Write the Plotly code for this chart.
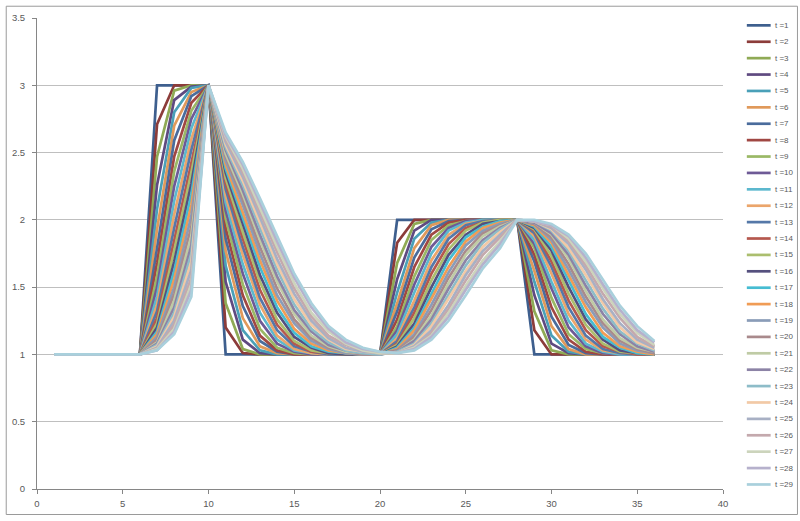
import plotly.graph_objects as go

# x positions (grid points)
X = [1, 2, 3, 4, 5, 6, 7, 8, 9, 10, 11, 12, 13, 14, 15, 16, 17, 18,
     19, 20, 21, 22, 23, 24, 25, 26, 27, 28, 29, 30, 31, 32, 33, 34, 35, 36]

t1 = [1, 1, 1, 1, 1, 1, 3, 3, 3, 3, 1, 1, 1, 1, 1, 1, 1, 1, 1, 1, 2, 2, 2, 2, 2, 2, 2, 2, 1, 1, 1, 1, 1, 1, 1, 1]
t2 = [1, 1, 1, 1, 1, 1, 2.71, 3, 3, 3, 1.20, 1.01, 1, 1, 1, 1, 1, 1, 1, 1, 1.83, 2, 2, 2, 2, 2, 2, 2, 1.18, 1, 1, 1, 1, 1, 1, 1]
t3 = [1, 1, 1, 1, 1, 1, 2.47, 2.96, 3.00, 3, 1.38, 1.04, 1.00, 1, 1, 1, 1, 1, 1, 1, 1.68, 1.97, 2, 2, 2, 2, 2, 2, 1.32, 1.03, 1, 1, 1, 1, 1, 1]
t4 = [1, 1, 1, 1, 1, 1, 2.26, 2.89, 2.99, 3, 1.54, 1.11, 1.01, 1, 1, 1, 1, 1, 1, 1, 1.56, 1.92, 2.00, 2, 2, 2, 2, 2, 1.44, 1.08, 1.01, 1, 1, 1, 1, 1]
t5 = [1, 1, 1, 1, 1, 1, 2.08, 2.80, 2.98, 3, 1.66, 1.18, 1.03, 1.00, 1, 1, 1, 1, 1, 1, 1.46, 1.86, 1.98, 2.00, 2, 2, 2, 2, 1.54, 1.14, 1.02, 1.00, 1, 1, 1, 1]
t6 = [1, 1, 1, 1, 1, 1, 1.93, 2.70, 2.95, 3, 1.77, 1.27, 1.06, 1.01, 1, 1, 1, 1, 1, 1, 1.38, 1.79, 1.96, 2.00, 2, 2, 2, 2, 1.62, 1.21, 1.04, 1.00, 1, 1, 1, 1]
t7 = [1, 1, 1, 1, 1, 1, 1.79, 2.59, 2.92, 3, 1.86, 1.36, 1.10, 1.02, 1.00, 1, 1, 1, 1, 1, 1.32, 1.72, 1.93, 1.99, 2.00, 2, 2, 2, 1.69, 1.28, 1.07, 1.01, 1.00, 1, 1, 1]
t8 = [1, 1, 1, 1, 1, 1, 1.68, 2.47, 2.87, 3, 1.94, 1.44, 1.14, 1.03, 1.00, 1, 1, 1, 1, 1, 1.26, 1.65, 1.89, 1.98, 2.00, 2, 2, 2, 1.74, 1.35, 1.11, 1.02, 1.00, 1, 1, 1]
t9 = [1, 1, 1, 1, 1, 1, 1.58, 2.36, 2.81, 3, 2.01, 1.52, 1.19, 1.05, 1.01, 1.00, 1, 1, 1, 1, 1.21, 1.58, 1.85, 1.96, 1.99, 2.00, 2.00, 2, 1.79, 1.42, 1.15, 1.04, 1.01, 1, 1, 1]
t10 = [1, 1, 1, 1, 1, 1, 1.50, 2.25, 2.75, 3, 2.07, 1.60, 1.25, 1.08, 1.02, 1.00, 1, 1, 1, 1, 1.18, 1.52, 1.80, 1.94, 1.99, 2.00, 2.00, 2, 1.82, 1.49, 1.20, 1.06, 1.01, 1.00, 1, 1]
t11 = [1, 1, 1, 1, 1, 1, 1.43, 2.14, 2.68, 3, 2.13, 1.67, 1.31, 1.11, 1.03, 1.01, 1.00, 1, 1, 1, 1.15, 1.46, 1.75, 1.92, 1.98, 2.00, 2.00, 2, 1.85, 1.54, 1.25, 1.08, 1.02, 1.00, 1, 1]
t12 = [1, 1, 1, 1, 1, 1, 1.37, 2.04, 2.60, 3, 2.18, 1.74, 1.37, 1.14, 1.04, 1.01, 1.00, 1, 1, 1, 1.12, 1.40, 1.70, 1.89, 1.97, 1.99, 2.00, 2, 1.88, 1.60, 1.30, 1.11, 1.03, 1.01, 1.00, 1]
t13 = [1, 1, 1, 1, 1, 1, 1.32, 1.94, 2.52, 3, 2.23, 1.80, 1.42, 1.18, 1.06, 1.02, 1.00, 1, 1, 1, 1.10, 1.35, 1.65, 1.86, 1.96, 1.99, 2.00, 2, 1.90, 1.65, 1.35, 1.14, 1.04, 1.01, 1.00, 1]
t14 = [1, 1, 1, 1, 1, 1, 1.27, 1.85, 2.44, 3, 2.27, 1.86, 1.48, 1.22, 1.08, 1.02, 1.01, 1.00, 1, 1, 1.08, 1.31, 1.60, 1.82, 1.94, 1.98, 2.00, 2, 1.92, 1.69, 1.40, 1.18, 1.06, 1.02, 1.00, 1.00]
t15 = [1, 1, 1, 1, 1, 1, 1.23, 1.77, 2.35, 3, 2.31, 1.91, 1.54, 1.26, 1.10, 1.03, 1.01, 1.00, 1, 1, 1.07, 1.27, 1.55, 1.78, 1.92, 1.98, 2.00, 2, 1.93, 1.73, 1.45, 1.22, 1.08, 1.02, 1.01, 1.00]
t16 = [1, 1, 1, 1, 1, 1, 1.20, 1.69, 2.27, 3, 2.35, 1.97, 1.59, 1.31, 1.13, 1.05, 1.01, 1.00, 1.00, 1, 1.06, 1.23, 1.50, 1.74, 1.89, 1.97, 1.99, 2, 1.94, 1.77, 1.50, 1.26, 1.11, 1.03, 1.01, 1.00]
t17 = [1, 1, 1, 1, 1, 1, 1.17, 1.62, 2.19, 3, 2.38, 2.02, 1.65, 1.35, 1.16, 1.06, 1.02, 1.01, 1.00, 1, 1.05, 1.20, 1.45, 1.70, 1.87, 1.95, 1.99, 2, 1.95, 1.80, 1.55, 1.30, 1.13, 1.05, 1.01, 1.00]
t18 = [1, 1, 1, 1, 1, 1, 1.15, 1.56, 2.11, 3, 2.41, 2.06, 1.70, 1.40, 1.19, 1.08, 1.03, 1.01, 1.00, 1, 1.04, 1.18, 1.41, 1.65, 1.84, 1.94, 1.98, 2, 1.96, 1.83, 1.59, 1.35, 1.16, 1.06, 1.02, 1.00]
t19 = [1, 1, 1, 1, 1, 1, 1.13, 1.50, 2.03, 3, 2.44, 2.11, 1.75, 1.44, 1.23, 1.10, 1.04, 1.01, 1.00, 1.00, 1.03, 1.15, 1.37, 1.61, 1.81, 1.92, 1.97, 2, 1.97, 1.85, 1.63, 1.39, 1.20, 1.08, 1.03, 1.01]
t20 = [1, 1, 1, 1, 1, 1, 1.11, 1.45, 1.95, 3, 2.47, 2.15, 1.80, 1.49, 1.26, 1.12, 1.05, 1.02, 1.00, 1.00, 1.03, 1.13, 1.33, 1.57, 1.77, 1.90, 1.96, 2, 1.97, 1.87, 1.67, 1.43, 1.23, 1.10, 1.04, 1.01]
t21 = [1, 1, 1, 1, 1, 1, 1.09, 1.40, 1.88, 3, 2.49, 2.19, 1.85, 1.54, 1.30, 1.14, 1.06, 1.02, 1.01, 1.00, 1.02, 1.11, 1.29, 1.53, 1.74, 1.88, 1.95, 2, 1.98, 1.89, 1.71, 1.47, 1.26, 1.12, 1.05, 1.02]
t22 = [1, 1, 1, 1, 1, 1, 1.08, 1.35, 1.81, 3, 2.52, 2.22, 1.89, 1.58, 1.33, 1.17, 1.07, 1.03, 1.01, 1.00, 1.02, 1.10, 1.26, 1.49, 1.70, 1.85, 1.94, 2, 1.98, 1.90, 1.74, 1.51, 1.30, 1.15, 1.06, 1.02]
t23 = [1, 1, 1, 1, 1, 1, 1.07, 1.31, 1.75, 3, 2.54, 2.26, 1.94, 1.63, 1.37, 1.19, 1.09, 1.03, 1.01, 1.00, 1.02, 1.08, 1.23, 1.45, 1.66, 1.83, 1.93, 2, 1.99, 1.92, 1.77, 1.55, 1.34, 1.17, 1.08, 1.03]
t24 = [1, 1, 1, 1, 1, 1, 1.06, 1.28, 1.69, 3, 2.56, 2.29, 1.98, 1.67, 1.41, 1.22, 1.11, 1.04, 1.02, 1.01, 1.01, 1.07, 1.21, 1.41, 1.62, 1.80, 1.91, 2, 1.99, 1.93, 1.79, 1.59, 1.38, 1.20, 1.09, 1.04]
t25 = [1, 1, 1, 1, 1, 1, 1.05, 1.25, 1.63, 3, 2.58, 2.32, 2.02, 1.71, 1.45, 1.25, 1.12, 1.05, 1.02, 1.01, 1.01, 1.06, 1.18, 1.37, 1.59, 1.77, 1.89, 2, 1.99, 1.94, 1.82, 1.63, 1.41, 1.23, 1.11, 1.05]
t26 = [1, 1, 1, 1, 1, 1, 1.04, 1.22, 1.57, 3, 2.60, 2.35, 2.06, 1.76, 1.49, 1.28, 1.14, 1.07, 1.03, 1.01, 1.01, 1.05, 1.16, 1.34, 1.55, 1.74, 1.87, 2, 1.99, 1.95, 1.84, 1.66, 1.45, 1.27, 1.13, 1.06]
t27 = [1, 1, 1, 1, 1, 1, 1.04, 1.19, 1.52, 3, 2.62, 2.38, 2.09, 1.80, 1.53, 1.31, 1.17, 1.08, 1.03, 1.01, 1.01, 1.05, 1.14, 1.31, 1.51, 1.70, 1.84, 2, 1.99, 1.96, 1.86, 1.69, 1.49, 1.30, 1.16, 1.07]
t28 = [1, 1, 1, 1, 1, 1, 1.03, 1.17, 1.48, 3, 2.63, 2.41, 2.13, 1.84, 1.57, 1.35, 1.19, 1.09, 1.04, 1.02, 1.01, 1.04, 1.13, 1.28, 1.48, 1.67, 1.82, 2, 1.99, 1.96, 1.88, 1.72, 1.52, 1.33, 1.18, 1.09]
t29 = [1, 1, 1, 1, 1, 1, 1.03, 1.15, 1.43, 3, 2.65, 2.43, 2.16, 1.88, 1.60, 1.38, 1.21, 1.11, 1.05, 1.02, 1.01, 1.03, 1.11, 1.25, 1.44, 1.64, 1.79, 2, 2.00, 1.97, 1.89, 1.75, 1.56, 1.36, 1.21, 1.10]

SERIES = [t1, t2, t3, t4, t5, t6, t7, t8, t9, t10, t11, t12, t13, t14, t15,
          t16, t17, t18, t19, t20, t21, t22, t23, t24, t25, t26, t27, t28, t29]

LABELS = ["t =1", "t =2", "t =3", "t =4", "t =5", "t =6", "t =7", "t =8", "t =9",
          "t =10", "t =11", "t =12", "t =13", "t =14", "t =15", "t =16", "t =17",
          "t =18", "t =19", "t =20", "t =21", "t =22", "t =23", "t =24", "t =25",
          "t =26", "t =27", "t =28", "t =29"]

COLORS = ["#3E5F8E", "#8C3C3A", "#8FAA55", "#5F4A80", "#4AA0B8", "#E0995A",
          "#4A6C9C", "#A04743", "#9AB865", "#6E5A96", "#5CB8CE", "#EBA56B",
          "#5578A8", "#B5584E", "#ABBE6E", "#55507E", "#46BCD2", "#F09C55",
          "#8A9CB8", "#A98A8C", "#BFCBA5", "#8C83A6", "#8DBCC8", "#F2C9A6",
          "#A8B0C4", "#C4A9AD", "#CCD4BC", "#B6B1CC", "#A9D0DC"]

W, H = 800, 521
ML, MR, MT, MB = 32, 77, 13, 28
PW, PH = W - ML - MR, H - MT - MB


def xp(px):
    return (px - ML) / PW


def yp(py):
    return (H - MB - py) / PH


fig = go.Figure()
for name, ys, col in zip(LABELS, SERIES, COLORS):
    fig.add_trace(go.Scatter(x=X, y=ys, mode="lines", name=name,
                             line=dict(color=col, width=2.7),
                             showlegend=False, hoverinfo="skip"))

tickfont = dict(family="Liberation Sans, Arial, sans-serif", size=9.5, color="#595959")

fig.update_layout(
    width=W, height=H,
    margin=dict(l=ML, r=MR, t=MT, b=MB),
    paper_bgcolor="white", plot_bgcolor="white",
    showlegend=False,
    xaxis=dict(range=[0, 40], tick0=0, dtick=5, showgrid=False, zeroline=False,
               showline=True, linecolor="#868686", linewidth=1,
               ticks="outside", ticklen=4, tickcolor="#868686",
               tickfont=tickfont, ticklabelstandoff=2),
    yaxis=dict(range=[0, 3.5], tick0=0, dtick=0.5, showgrid=True,
               gridcolor="#BFBFBF", gridwidth=1, zeroline=False,
               showline=True, linecolor="#868686", linewidth=1,
               ticks="outside", ticklen=4, tickcolor="#868686",
               tickfont=tickfont, ticklabelstandoff=5),
)

shapes = []
annotations = []
# outer chart border
shapes.append(dict(type="rect", xref="paper", yref="paper",
                   x0=xp(1), x1=xp(798), y0=yp(519), y1=yp(1),
                   line=dict(color="#9A9A9A", width=1), fillcolor="rgba(0,0,0,0)",
                   layer="above"))

# manual legend
for i, (name, col) in enumerate(zip(LABELS, COLORS)):
    py = 20.5 + i * 16.71
    shapes.append(dict(type="line", xref="paper", yref="paper",
                       x0=xp(747), x1=xp(771), y0=yp(py), y1=yp(py),
                       line=dict(color=col, width=2.7)))
    annotations.append(dict(x=xp(773), y=yp(py), xref="paper", yref="paper",
                            text=name, showarrow=False, xanchor="left",
                            yanchor="middle",
                            font=dict(family="Liberation Sans, Arial, sans-serif",
                                      size=8, color="#595959")))

fig.update_layout(shapes=shapes, annotations=annotations)

fig.write_html("out.html",
               config={"displayModeBar": False, "staticPlot": True},
               post_script="document.body.style.margin='0';"
                           "document.body.style.overflow='hidden';")
